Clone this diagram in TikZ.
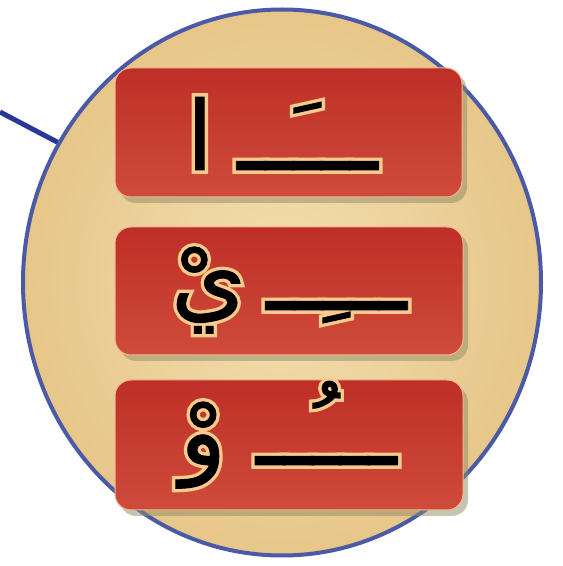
\documentclass[tikz,border=0pt]{standalone}
\usepackage{fontspec}
\usetikzlibrary{shapes.geometric,shadows}
\TeXXeTstate=1
\newfontfamily\arabicfont[Script=Arabic,FakeBold=1]{DejaVu Sans}
\newfontfamily\arabicglow[Script=Arabic,FakeBold=8]{DejaVu Sans}
\definecolor{ringblue}{HTML}{4B5AA6}
\definecolor{tieblue}{HTML}{27389A}
\definecolor{sandin}{HTML}{F3E0B2}
\definecolor{sandout}{HTML}{E7C689}
\definecolor{redtop}{HTML}{BE2F27}
\definecolor{redmid}{HTML}{DA654F}
\definecolor{redbot}{HTML}{CF4B3B}
\definecolor{boxedge}{HTML}{F2B894}
\definecolor{glow}{HTML}{F8CA8C}
\definecolor{shadowc}{HTML}{8E8C66}
\tikzset{
  x=1pt, y=1pt,
  redbox/.style={rounded corners=16pt, minimum width=347pt, minimum height=129pt,
    draw=boxedge, line width=1pt, top color=redtop, middle color=redmid, bottom color=redbot,
    drop shadow={shadow xshift=5pt, shadow yshift=-6pt, fill=shadowc, opacity=0.5}},
  glyph/.style={inner sep=0pt, font=\arabicfont\fontsize{96}{96}\selectfont, anchor=base east, text=black},
  glyphglow/.style={glyph, font=\arabicglow\fontsize{96}{96}\selectfont, text=glow},
  tieline/.style={draw=tieblue, line width=5pt},
}
\newcommand\glowtext[3]{%
  \node[glyphglow] (#1g) at (#2) {#3};
  \node[glyph] (#1) at (#2) {#3};
}
\begin{document}
\begin{tikzpicture}
\useasboundingbox (0,0) rectangle (563,566);
\fill[white] (0,0) rectangle (563,566);
\node[ellipse, draw=ringblue, line width=4pt, minimum width=518pt, minimum height=546pt,
  inner color=sandin, outer color=sandout, inner sep=0pt] (ring) at (282,283.5) {};
\coordinate (tieStart) at (0,454);
\draw[tieline] (tieStart) -- (ring.148.6);
\node[redbox] (b1) at (288.5,433.5) {};
\node[redbox, minimum width=348pt, minimum height=128pt] (b2) at (289,275) {};
\node[redbox, minimum width=348pt, minimum height=130pt] (b3) at (289,121) {};
\coordinate (t1) at (378,396);
\coordinate (t2) at (407,256);
\coordinate (t3) at (397,101);
\glowtext{w1}{t1}{\beginR ـــَــ\hspace{24pt}ا\endR}
\glowtext{w2}{t2}{\beginR ـــِــ\hspace{20pt}يْ\endR}
\glowtext{w3}{t3}{\beginR ـــُــ\hspace{30pt}وْ\endR}
\end{tikzpicture}
\end{document}
